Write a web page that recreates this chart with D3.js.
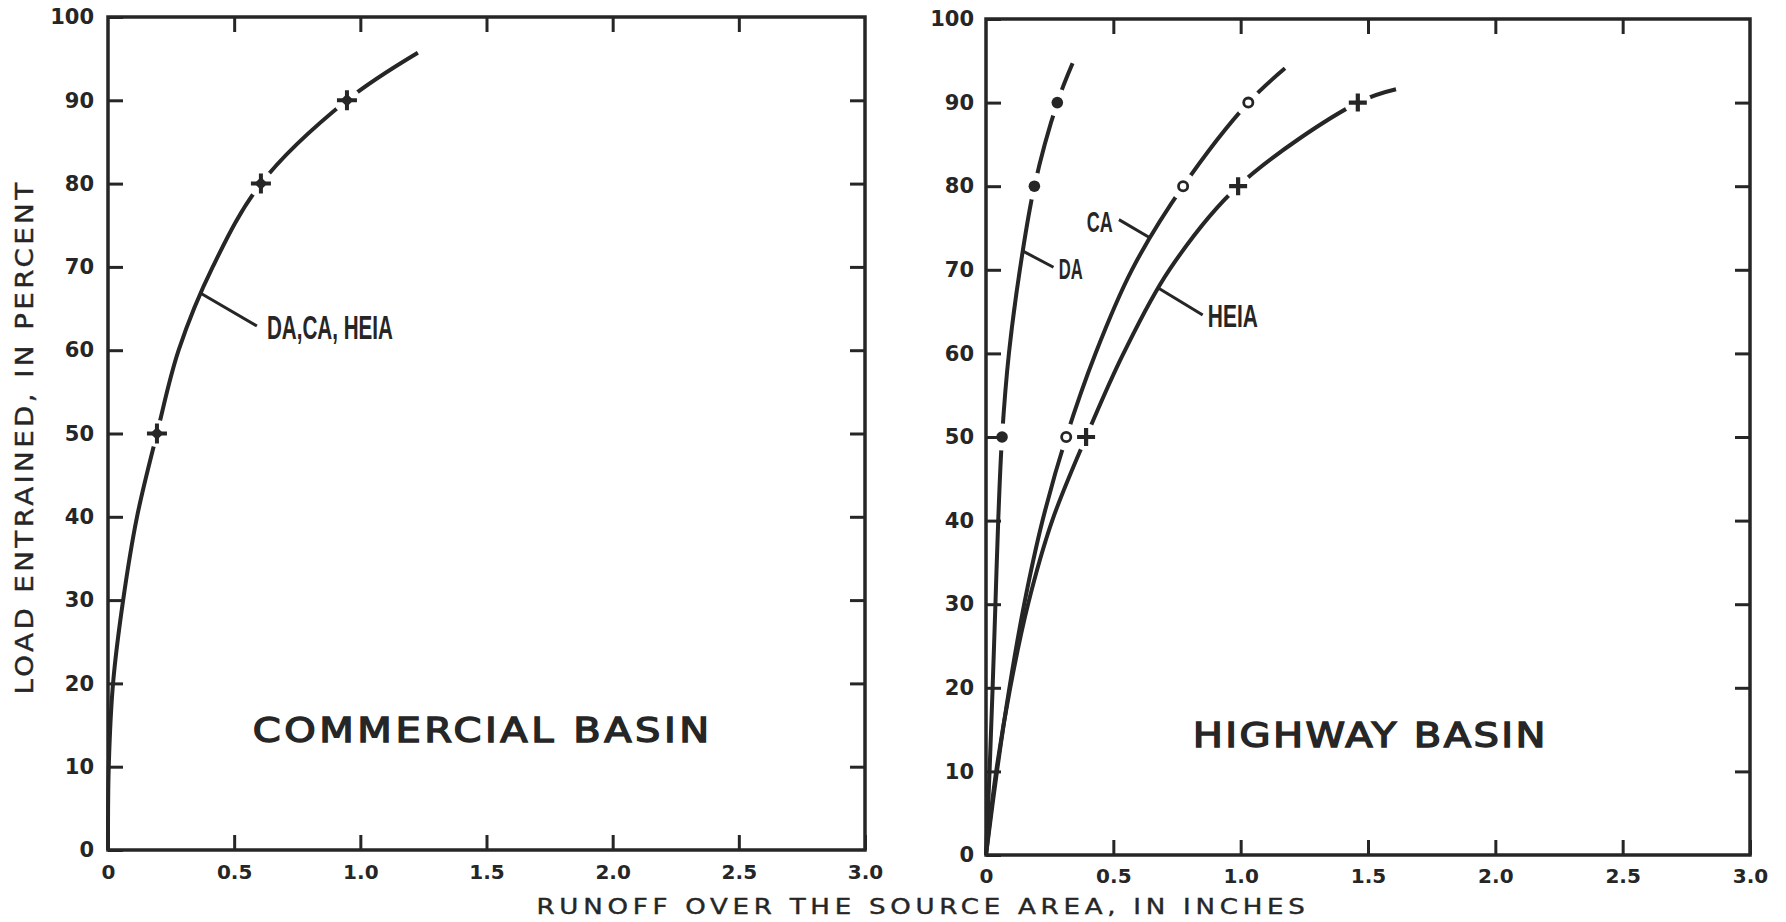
<!DOCTYPE html>
<html><head><meta charset="utf-8">
<script src="https://cdn.jsdelivr.net/npm/d3@7"></script>
<style>html,body{margin:0;padding:0;background:#fff;overflow:hidden}</style>
</head><body>
<script>
// ---------- data ----------
const yTickValues = [0,10,20,30,40,50,60,70,80,90,100];
const xTickValues = [0,0.5,1.0,1.5,2.0,2.5,3.0];
const xTickLabels = ["0","0.5","1.0","1.5","2.0","2.5","3.0"];
const innerXTicks = [0.5,1.0,1.5,2.0,2.5];
const innerYTicks = [10,20,30,40,50,60,70,80,90];
const markerLevels = [50,80,90];

// Commercial basin (DA, CA, HEIA coincide)
const commercialX = [0, 0.003, 0.02, 0.06, 0.115, 0.194, 0.28, 0.415, 0.606, 0.947, 1.228];
const commercialY = [0, 10, 20, 30, 40, 50, 60, 70, 80, 90, 95.7];

// Highway basin
const daX = [0, 0.014, 0.026, 0.037, 0.048, 0.063, 0.09, 0.133, 0.19, 0.28, 0.34];
const daY = [0, 10, 20, 30, 40, 50, 60, 70, 80, 90, 94.7];
const caX = [0, 0.043, 0.092, 0.15, 0.222, 0.315, 0.43, 0.573, 0.774, 1.03, 1.174];
const caY = [0, 10, 20, 30, 40, 50, 60, 70, 80, 90, 94.1];
const heiaX = [0, 0.04, 0.095, 0.165, 0.26, 0.393, 0.54, 0.72, 0.99, 1.46, 1.61];
const heiaY = [0, 10, 20, 30, 40, 50, 60, 70, 80, 90, 91.6];

// annotation labels (data units): text, leader from (x1,y1) to (x2,y2), text at (tx,ty), text width
const commercialLabels = [
  {text:"DA,CA, HEIA", x1:0.364, y1:66.9, x2:0.59, y2:62.9, tx:0.63, ty:61.3, w:126, fs:33}
];
const highwayLabels = [
  {text:"DA",   x1:0.147, y1:72.2, x2:0.265, y2:70.3, tx:0.286, ty:68.9, w:24, fs:30},
  {text:"CA",   x1:0.64,  y1:73.9, x2:0.522, y2:76.0, tx:0.396, ty:74.5, w:26, fs:30},
  {text:"HEIA", x1:0.678, y1:67.8, x2:0.851, y2:64.6, tx:0.871, ty:63.2, w:50, fs:32}
];

// ---------- drawing ----------
const W = 1786, H = 922;
const ink = "#262626";
const svg = d3.select("body").append("svg").attr("width", W).attr("height", H)
  .style("background", "#fff");
const defs = svg.append("defs");
let maskId = 0;

function drawPanel(p) {
  const x = d3.scaleLinear().domain([0, 3]).range(p.xr);
  const y = d3.scaleLinear().domain([0, 100]).range(p.yr);
  const g = svg.append("g");

  const styleAxis = (sel) => {
    sel.select(".domain").remove();
    sel.selectAll(".tick line").attr("stroke", ink).attr("stroke-width", 3);
    sel.attr("font-family", "'DejaVu Sans', sans-serif").attr("font-weight", "bold").attr("fill", ink);
    sel.selectAll(".tick text").attr("fill", ink);
  };
  g.append("g").attr("transform", `translate(${x(0)},0)`)
    .call(d3.axisLeft(y).tickValues(yTickValues).tickSize(-15).tickPadding(p.yPad).tickFormat(d => String(d)))
    .call(styleAxis).attr("font-size", 21);
  g.append("g").attr("transform", `translate(${x(3)},0)`)
    .call(d3.axisRight(y).tickValues(innerYTicks).tickSize(-15).tickFormat(""))
    .call(styleAxis);
  g.append("g").attr("transform", `translate(0,${y(0)})`)
    .call(d3.axisBottom(x).tickValues(xTickValues).tickSize(-15).tickPadding(p.xPad)
      .tickFormat((d, i) => xTickLabels[i]))
    .call(styleAxis).attr("font-size", 20);
  g.append("g").attr("transform", `translate(0,${y(100)})`)
    .call(d3.axisTop(x).tickValues(innerXTicks).tickSize(-15).tickFormat(""))
    .call(styleAxis);

  g.append("rect")
    .attr("x", x(0)).attr("y", y(100))
    .attr("width", x(3) - x(0)).attr("height", y(0) - y(100))
    .attr("fill", "none").attr("stroke", ink).attr("stroke-width", 3.5);

  const line = d3.line().x(d => x(d[0])).y(d => y(d[1])).curve(d3.curveCatmullRom.alpha(0.5));

  p.series.forEach(s => {
    const pts = s.xs.map((v, i) => [v, s.ys[i]]);
    const marks = markerLevels.map(lv => [s.xs[s.ys.indexOf(lv)], lv]);
    const id = "m" + (maskId++);
    const mask = defs.append("mask").attr("id", id)
      .attr("maskUnits", "userSpaceOnUse").attr("x", 0).attr("y", 0).attr("width", W).attr("height", H);
    mask.append("rect").attr("width", W).attr("height", H).attr("fill", "#fff");
    mask.selectAll("circle").data(marks).join("circle")
      .attr("cx", d => x(d[0])).attr("cy", d => y(d[1])).attr("r", 13.5).attr("fill", "#000");

    g.append("path").datum(pts).attr("d", line)
      .attr("fill", "none").attr("stroke", ink).attr("stroke-width", 4)
      .attr("stroke-linecap", "butt").attr("mask", `url(#${id})`);

    const mg = g.append("g");
    marks.forEach(m => {
      const cx = x(m[0]), cy = y(m[1]);
      if (s.marker === "dot") {
        mg.append("circle").attr("cx", cx).attr("cy", cy).attr("r", 5.8).attr("fill", ink);
      } else if (s.marker === "ring") {
        mg.append("circle").attr("cx", cx).attr("cy", cy).attr("r", 4.6)
          .attr("fill", "#fff").attr("stroke", ink).attr("stroke-width", 2.8);
      } else if (s.marker === "plus") {
        mg.append("path").attr("d", `M${cx-9},${cy}H${cx+9}M${cx},${cy-9}V${cy+9}`)
          .attr("stroke", ink).attr("stroke-width", 4.2).attr("fill", "none");
      } else if (s.marker === "star") {
        mg.append("path").attr("d", `M${cx-10},${cy}H${cx+10}M${cx},${cy-10}V${cy+10}`)
          .attr("stroke", ink).attr("stroke-width", 4).attr("fill", "none");
        mg.append("path").attr("d", `M${cx-6.5},${cy}L${cx},${cy-6.5}L${cx+6.5},${cy}L${cx},${cy+6.5}Z`)
          .attr("fill", ink);
      }
    });
  });

  p.labels.forEach(l => {
    g.append("line").attr("x1", x(l.x1)).attr("y1", y(l.y1)).attr("x2", x(l.x2)).attr("y2", y(l.y2))
      .attr("stroke", ink).attr("stroke-width", 3);
    g.append("text").attr("x", x(l.tx)).attr("y", y(l.ty))
      .attr("font-family", "'Liberation Sans Narrow','Liberation Sans', sans-serif")
      .attr("font-weight", "bold").attr("font-size", l.fs).attr("fill", ink)
      .attr("textLength", l.w).attr("lengthAdjust", "spacingAndGlyphs")
      .text(l.text);
  });

  g.append("text").attr("x", x(p.title.x)).attr("y", y(p.title.y))
    .attr("font-family", "'DejaVu Sans', sans-serif").attr("font-weight", "normal")
    .attr("font-size", 34).attr("fill", ink)
    .attr("stroke", ink).attr("stroke-width", 1.4)
    .attr("letter-spacing", p.title.ls)
    .attr("textLength", p.title.w).attr("lengthAdjust", "spacingAndGlyphs")
    .text(p.title.text);
}

drawPanel({
  xr: [108, 865], yr: [850, 17], yPad: 14, xPad: 15,
  series: [{xs: commercialX, ys: commercialY, marker: "star"}],
  labels: commercialLabels,
  title: {text: "COMMERCIAL BASIN", x: 0.574, y: 13.0, w: 460, ls: 3}
});
drawPanel({
  xr: [986, 1750], yr: [855, 19], yPad: 12, xPad: 14,
  series: [
    {xs: daX, ys: daY, marker: "dot"},
    {xs: caX, ys: caY, marker: "ring"},
    {xs: heiaX, ys: heiaY, marker: "plus"}
  ],
  labels: highwayLabels,
  title: {text: "HIGHWAY BASIN", x: 0.812, y: 12.9, w: 355, ls: 2}
});

svg.append("text")
  .attr("transform", "translate(33,437) rotate(-90)")
  .attr("text-anchor", "middle")
  .attr("font-family", "'DejaVu Sans', sans-serif").attr("font-size", 24).attr("fill", ink)
  .attr("stroke", ink).attr("stroke-width", 0.4)
  .attr("letter-spacing", 3)
  .attr("textLength", 515).attr("lengthAdjust", "spacingAndGlyphs")
  .text("LOAD ENTRAINED, IN PERCENT");
svg.append("text")
  .attr("x", 923).attr("y", 914)
  .attr("text-anchor", "middle")
  .attr("font-family", "'DejaVu Sans', sans-serif").attr("font-size", 22).attr("fill", ink)
  .attr("stroke", ink).attr("stroke-width", 0.4)
  .attr("letter-spacing", 4)
  .attr("textLength", 773).attr("lengthAdjust", "spacingAndGlyphs")
  .text("RUNOFF OVER THE SOURCE AREA, IN INCHES");
</script>
</body></html>
